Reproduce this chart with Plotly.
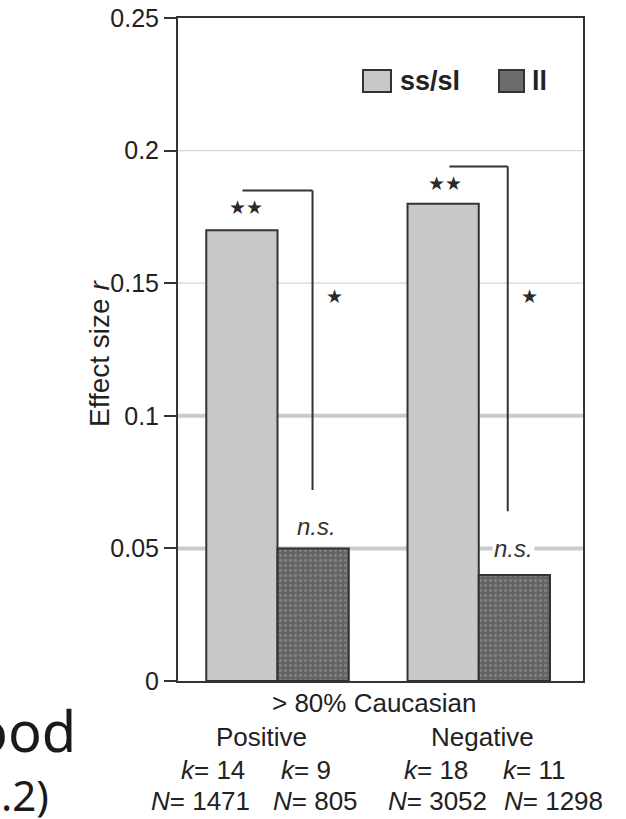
import plotly.graph_objects as go

# ---- data ----
groups = ["Positive", "Negative"]
x_pos = [0, 1]
ss_sl = [0.17, 0.18]
ll = [0.05, 0.04]
k_ss = [14, 18]
k_ll = [9, 11]
N_ss = [1471, 3052]
N_ll = [805, 1298]
sig_ss = ["★★", "★★"]
sig_ll = ["n.s.", "n.s."]
sig_diff = ["★", "★"]
bracket_top = [0.185, 0.194]
bracket_bottom = [0.072, 0.064]
y_ticks = [0, 0.05, 0.1, 0.15, 0.2, 0.25]
y_tick_labels = ["0", "0.05", "0.1", "0.15", "0.2", "0.25"]
thin_grid = [0.2, 0.15]
thick_grid = [0.1, 0.05]

W, H = 626, 819
ML, MR, MT, MB = 178, 43, 18, 138
PW, PH = W - ML - MR, H - MT - MB


def px(x):
    return (x - ML) / PW


def py(y):
    return (H - MB - y) / PH


FONT = "Liberation Sans, Arial, sans-serif"
DARK = "#333333"

fig = go.Figure()
fig.add_trace(go.Bar(
    x=x_pos, y=ss_sl, name="ss/sl",
    marker=dict(color="#c8c8ca", line=dict(color=DARK, width=2)),
    showlegend=False,
))
fig.add_trace(go.Bar(
    x=x_pos, y=ll, name="ll",
    marker=dict(color="#6a6a6a", line=dict(color=DARK, width=2),
                pattern=dict(shape=".", fgcolor="#9c9c9c", bgcolor="#626262",
                             size=5, solidity=0.35)),
    showlegend=False,
))

shapes = []
for g in thin_grid:
    shapes.append(dict(type="line", xref="paper", yref="y", x0=0, x1=1, y0=g, y1=g,
                       line=dict(color="#d4d4d4", width=1.2), layer="below"))
for g in thick_grid:
    shapes.append(dict(type="line", xref="paper", yref="y", x0=0, x1=1, y0=g, y1=g,
                       line=dict(color="#cbcbcb", width=4), layer="below"))

# significance brackets (ss/sl vs ll)
bx0 = [-0.174, 0.854]
bx1 = [0.174, 1.144]
for i in range(2):
    shapes.append(dict(type="line", xref="x", yref="y", x0=bx0[i], x1=bx1[i],
                       y0=bracket_top[i], y1=bracket_top[i],
                       line=dict(color=DARK, width=2)))
    shapes.append(dict(type="line", xref="x", yref="y", x0=bx1[i], x1=bx1[i],
                       y0=bracket_top[i], y1=bracket_bottom[i],
                       line=dict(color=DARK, width=2)))

# legend boxes
shapes.append(dict(type="rect", xref="paper", yref="paper",
                   x0=px(363), x1=px(391), y0=py(92), y1=py(70),
                   fillcolor="#c8c8ca", line=dict(color=DARK, width=2)))
shapes.append(dict(type="rect", xref="paper", yref="paper",
                   x0=px(499), x1=px(524), y0=py(92), y1=py(70),
                   fillcolor="#6c6c6c", line=dict(color=DARK, width=2)))

ann = []


def add_text(x, y, text, font, xref="paper", yref="paper", xanchor="center",
             yanchor="middle", **kw):
    ann.append(dict(x=x, y=y, xref=xref, yref=yref, text=text, showarrow=False,
                    xanchor=xanchor, yanchor=yanchor, font=font, **kw))


star_font = dict(size=19, color="#2a2a2a", family="DejaVu Sans")
# stars and n.s.
star_x = [-0.155, 0.833]
star_y = [0.1787, 0.1879]
diff_x = [0.2815, 1.251]
diff_y = [0.1453, 0.1453]
ns_x = [0.192, 1.172]
ns_y = [0.0584, 0.050]
for i in range(2):
    add_text(star_x[i], star_y[i], sig_ss[i], star_font, xref="x", yref="y")
    add_text(diff_x[i], diff_y[i], sig_diff[i], star_font, xref="x", yref="y")
    extra = dict(bgcolor="white") if i == 1 else {}
    add_text(ns_x[i], ns_y[i], "<i>" + sig_ll[i] + "</i>",
             dict(size=24, color=DARK, family=FONT), xref="x", yref="y", **extra)

# legend text
lf = dict(size=27, color="#222", family=FONT)
add_text(px(398), py(81), "<b>ss/sl</b>", lf, xanchor="left")
add_text(px(530), py(81), "<b>ll</b>", lf, xanchor="left")

# y title
add_text(px(99), py(354), "Effect size <i>r</i>",
         dict(size=28, color="#222", family=FONT), textangle=-90)

# bottom labels
bf = dict(size=26, color="#222", family=FONT)
add_text(px(374), py(703), "> 80% Caucasian", bf)
grp_cx = [261, 482]
for i in range(2):
    add_text(px(grp_cx[i]), py(737), groups[i], bf)
k_cx = [[213, 306], [436, 534]]
N_cx = [[200, 315], [437, 553]]
for i in range(2):
    add_text(px(k_cx[i][0]), py(770), f"<i>k</i>= {k_ss[i]}", bf)
    add_text(px(k_cx[i][1]), py(770), f"<i>k</i>= {k_ll[i]}", bf)
    add_text(px(N_cx[i][0]), py(801), f"<i>N</i>= {N_ss[i]}", bf)
    add_text(px(N_cx[i][1]), py(801), f"<i>N</i>= {N_ll[i]}", bf)

# fragments of neighbouring text at left edge
add_text(px(78), py(730), "ood", dict(size=56, color="#1a1a1a", family="Noto Sans"),
         xanchor="right")
add_text(px(51), py(794), ".2)", dict(size=42, color="#1a1a1a", family="Noto Sans"),
         xanchor="right")

fig.update_layout(
    width=W, height=H,
    margin=dict(l=ML, r=MR, t=MT, b=MB, autoexpand=False),
    paper_bgcolor="white", plot_bgcolor="white",
    barmode="group", bargap=0.292, bargroupgap=0,
    shapes=shapes, annotations=ann,
    showlegend=False,
)
fig.update_xaxes(range=[-0.4945, 1.518], showticklabels=False, ticks="",
                 showgrid=False, zeroline=False, showline=True, mirror=True,
                 linecolor=DARK, linewidth=2, automargin=False)
fig.update_yaxes(range=[0, 0.25], tickvals=y_ticks, ticktext=y_tick_labels,
                 ticks="outside", ticklen=12, tickwidth=2, tickcolor=DARK,
                 showgrid=False, zeroline=False, showline=True, mirror=True,
                 linecolor=DARK, linewidth=2, automargin=False,
                 tickfont=dict(size=25, color="#222", family=FONT))

fig.write_html("out.html")
